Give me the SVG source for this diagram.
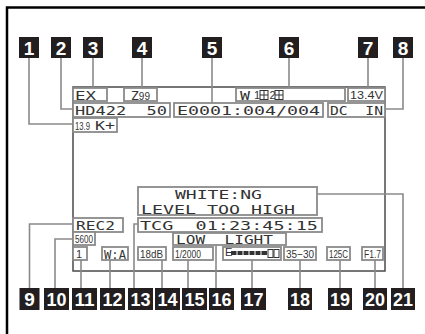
<svg xmlns="http://www.w3.org/2000/svg" width="425" height="334" viewBox="0 0 425 334">
<style>
.frame{fill:none;stroke:#000;stroke-width:2.5}
.screen{fill:none;stroke:#4a4a4a;stroke-width:1.5}
.tb{fill:#fff;stroke:#8a8a8a;stroke-width:1.8}
.lcd{font-family:"DejaVu Sans Mono",monospace;font-size:13px;fill:#333}
.sm{font-family:"Liberation Sans",sans-serif;font-size:11px;fill:#333}
.lb{fill:#231f20}
.lt{font-family:"Liberation Sans",Arial,sans-serif;font-weight:bold;font-size:19px;fill:#fff;text-anchor:middle}
.conn{fill:none;stroke:#8a8a8a;stroke-width:1.6}
</style>
<path class="frame" d="M7,334 V7.5 H425"/>
<rect class="screen" x="73" y="87" width="312" height="184"/>

<g id="connectors">
<path class="conn" d="M29,58 V124 H73"/>
<path class="conn" d="M61,58 V109 H73"/>
<path class="conn" d="M93,58 V88"/>
<path class="conn" d="M142,58 V88"/>
<path class="conn" d="M212,58 V103"/>
<path class="conn" d="M289,58 V88"/>
<path class="conn" d="M368,58 V88"/>
<path class="conn" d="M403,58 V109 H385"/>
<path class="conn" d="M29.5,288 V224 H73"/>
<path class="conn" d="M55,288 V239 H73"/>
<path class="conn" d="M81,288 V260"/>
<path class="conn" d="M110,288 V260"/>
<path class="conn" d="M134,288 V224 H138"/>
<path class="conn" d="M162,288 V260"/>
<path class="conn" d="M188,288 V260"/>
<path class="conn" d="M216,288 V245"/>
<path class="conn" d="M252,288 V260"/>
<path class="conn" d="M300,288 V260"/>
<path class="conn" d="M340,288 V260"/>
<path class="conn" d="M375,288 V260"/>
<path class="conn" d="M403,288 V194 H317"/>
</g>

<g id="screen-items">
<g id="ex"><rect class="tb" x="73" y="88" width="34" height="13"/><text class="lcd" x="75" y="99.5" textLength="21" lengthAdjust="spacingAndGlyphs">EX</text></g>
<g id="zoom"><rect class="tb" x="124" y="88" width="33" height="13"/><text class="lcd" x="131" y="99.5">Z<tspan style="font-family:'Liberation Sans',sans-serif;font-size:10px">99</tspan></text></g>
<g id="wireless"><rect class="tb" x="236" y="88" width="109" height="13"/>
<text class="lcd" x="240" y="99.5" textLength="10" lengthAdjust="spacingAndGlyphs">W</text>
<text class="sm" x="254" y="99" font-size="10">1</text>
<g fill="none" stroke="#333" stroke-width="1"><rect x="260" y="90.5" width="8" height="9"/><path d="M264,90.5 V99.5 M260,95 H268"/><rect x="275" y="90.5" width="8" height="9"/><path d="M279,90.5 V99.5 M275,95 H283"/></g>
<text class="sm" x="269.5" y="99" font-size="10">2</text>
</g>
<g id="volt"><rect class="tb" x="348" y="88" width="37" height="13"/><text class="sm" x="350" y="99" textLength="33" lengthAdjust="spacingAndGlyphs">13.4V</text></g>
<g id="format"><rect class="tb" x="73" y="103" width="97" height="14"/><text class="lcd" x="75" y="115" textLength="92" lengthAdjust="spacingAndGlyphs" xml:space="preserve">HD422  50</text></g>
<g id="clip"><rect class="tb" x="174" y="103" width="149" height="14"/><text class="lcd" x="177" y="115" textLength="143" lengthAdjust="spacingAndGlyphs">E0001:004/004</text></g>
<g id="dcin"><rect class="tb" x="328" y="103" width="57" height="14"/><text class="lcd" x="330" y="115" textLength="53" lengthAdjust="spacingAndGlyphs" xml:space="preserve">DC  IN</text></g>
<g id="wb"><rect class="tb" x="73" y="118" width="44" height="14"/><text class="sm" x="75" y="129.5" textLength="15" lengthAdjust="spacingAndGlyphs">13.9</text><text class="lcd" x="95" y="130" textLength="20" lengthAdjust="spacingAndGlyphs">K+</text></g>
<g id="msg"><rect class="tb" x="138" y="187" width="179" height="28"/><text class="lcd" x="175" y="199" textLength="87" lengthAdjust="spacingAndGlyphs">WHITE:NG</text><text class="lcd" x="141" y="213.5" textLength="154" lengthAdjust="spacingAndGlyphs">LEVEL TOO HIGH</text></g>
<g id="rec"><rect class="tb" x="73" y="218" width="50" height="14"/><text class="lcd" x="76" y="229.5" textLength="39" lengthAdjust="spacingAndGlyphs">REC2</text></g>
<g id="tc"><rect class="tb" x="138" y="218" width="184" height="14"/><text class="lcd" x="140" y="229.5" textLength="178" lengthAdjust="spacingAndGlyphs" xml:space="preserve">TCG  01:23:45:15</text></g>
<g id="ct"><rect class="tb" x="73" y="232" width="22" height="13"/><text class="sm" x="75" y="243" textLength="18" lengthAdjust="spacingAndGlyphs">5600</text></g>
<g id="low"><rect class="tb" x="173" y="233" width="113" height="12"/><text class="lcd" x="176" y="244" textLength="97" lengthAdjust="spacingAndGlyphs" xml:space="preserve">LOW  LIGHT</text></g>
<g id="nd"><rect class="tb" x="73" y="247" width="14" height="13"/><text class="sm" x="76" y="258">1</text></g>
<g id="wba"><rect class="tb" x="102" y="247" width="26" height="13"/><text class="lcd" x="104" y="258.5" textLength="22" lengthAdjust="spacingAndGlyphs">W:A</text></g>
<g id="gain"><rect class="tb" x="138" y="247" width="28" height="13"/><text class="sm" x="140" y="258" textLength="23" lengthAdjust="spacingAndGlyphs">18dB</text></g>
<g id="shutter"><rect class="tb" x="173" y="247" width="40" height="13"/><text class="sm" x="175" y="258" textLength="26" lengthAdjust="spacingAndGlyphs">1/2000</text></g>
<g id="batt"><rect class="tb" x="223" y="247" width="58" height="13"/>
<text class="sm" x="225" y="256" font-size="7">E</text>
<rect x="231" y="251" width="36" height="4" fill="#333"/>
<g stroke="#fff" stroke-width="1"><path d="M237,251 V255 M243,251 V255 M249,251 V255 M255,251 V255 M261,251 V255"/></g>
<g fill="none" stroke="#333" stroke-width="1"><rect x="268" y="249.5" width="5" height="8"/><rect x="274" y="249.5" width="5" height="8"/></g>
</g>
<g id="temp"><rect class="tb" x="284" y="247" width="32" height="13"/><text class="sm" x="286" y="258" textLength="28" lengthAdjust="spacingAndGlyphs">35−30</text></g>
<g id="fps"><rect class="tb" x="327" y="247" width="23" height="13"/><text class="sm" x="329" y="258" textLength="19" lengthAdjust="spacingAndGlyphs">125C</text></g>
<g id="iris"><rect class="tb" x="362" y="247" width="21" height="13"/><text class="sm" x="364" y="258" textLength="17" lengthAdjust="spacingAndGlyphs">F1.7</text></g>
</g>

<g id="labels">
<g id="n1"><rect class="lb" x="19" y="37" width="20" height="21"/><text class="lt" x="29" y="55">1</text></g>
<g id="n2"><rect class="lb" x="51" y="37" width="20" height="21"/><text class="lt" x="61" y="55">2</text></g>
<g id="n3"><rect class="lb" x="83" y="37" width="20" height="21"/><text class="lt" x="93" y="55">3</text></g>
<g id="n4"><rect class="lb" x="132" y="37" width="20" height="21"/><text class="lt" x="142" y="55">4</text></g>
<g id="n5"><rect class="lb" x="202" y="37" width="20" height="21"/><text class="lt" x="212" y="55">5</text></g>
<g id="n6"><rect class="lb" x="279" y="37" width="20" height="21"/><text class="lt" x="289" y="55">6</text></g>
<g id="n7"><rect class="lb" x="358" y="37" width="20" height="21"/><text class="lt" x="368" y="55">7</text></g>
<g id="n8"><rect class="lb" x="393" y="37" width="20" height="21"/><text class="lt" x="403" y="55">8</text></g>
<g id="n9"><rect class="lb" x="19.5" y="288" width="20" height="22"/><text class="lt" x="29.5" y="306">9</text></g>
<g id="n10"><rect class="lb" x="44" y="288" width="25" height="22"/><text class="lt" x="56.5" y="306" textLength="20" lengthAdjust="spacingAndGlyphs">10</text></g>
<g id="n11"><rect class="lb" x="72" y="288" width="25" height="22"/><text class="lt" x="84.5" y="306" textLength="20" lengthAdjust="spacingAndGlyphs">11</text></g>
<g id="n12"><rect class="lb" x="100" y="288" width="25" height="22"/><text class="lt" x="112.5" y="306" textLength="20" lengthAdjust="spacingAndGlyphs">12</text></g>
<g id="n13"><rect class="lb" x="128" y="288" width="25" height="22"/><text class="lt" x="140.5" y="306" textLength="20" lengthAdjust="spacingAndGlyphs">13</text></g>
<g id="n14"><rect class="lb" x="155" y="288" width="25" height="22"/><text class="lt" x="167.5" y="306" textLength="20" lengthAdjust="spacingAndGlyphs">14</text></g>
<g id="n15"><rect class="lb" x="182" y="288" width="25" height="22"/><text class="lt" x="194.5" y="306" textLength="20" lengthAdjust="spacingAndGlyphs">15</text></g>
<g id="n16"><rect class="lb" x="209" y="288" width="25" height="22"/><text class="lt" x="221.5" y="306" textLength="20" lengthAdjust="spacingAndGlyphs">16</text></g>
<g id="n17"><rect class="lb" x="241" y="288" width="25" height="22"/><text class="lt" x="253.5" y="306" textLength="20" lengthAdjust="spacingAndGlyphs">17</text></g>
<g id="n18"><rect class="lb" x="288" y="288" width="24" height="22"/><text class="lt" x="300" y="306" textLength="20" lengthAdjust="spacingAndGlyphs">18</text></g>
<g id="n19"><rect class="lb" x="328" y="288" width="24" height="22"/><text class="lt" x="340" y="306" textLength="20" lengthAdjust="spacingAndGlyphs">19</text></g>
<g id="n20"><rect class="lb" x="363" y="288" width="24" height="22"/><text class="lt" x="375" y="306" textLength="20" lengthAdjust="spacingAndGlyphs">20</text></g>
<g id="n21"><rect class="lb" x="391" y="288" width="24" height="22"/><text class="lt" x="403" y="306" textLength="20" lengthAdjust="spacingAndGlyphs">21</text></g>
</g>
</svg>
